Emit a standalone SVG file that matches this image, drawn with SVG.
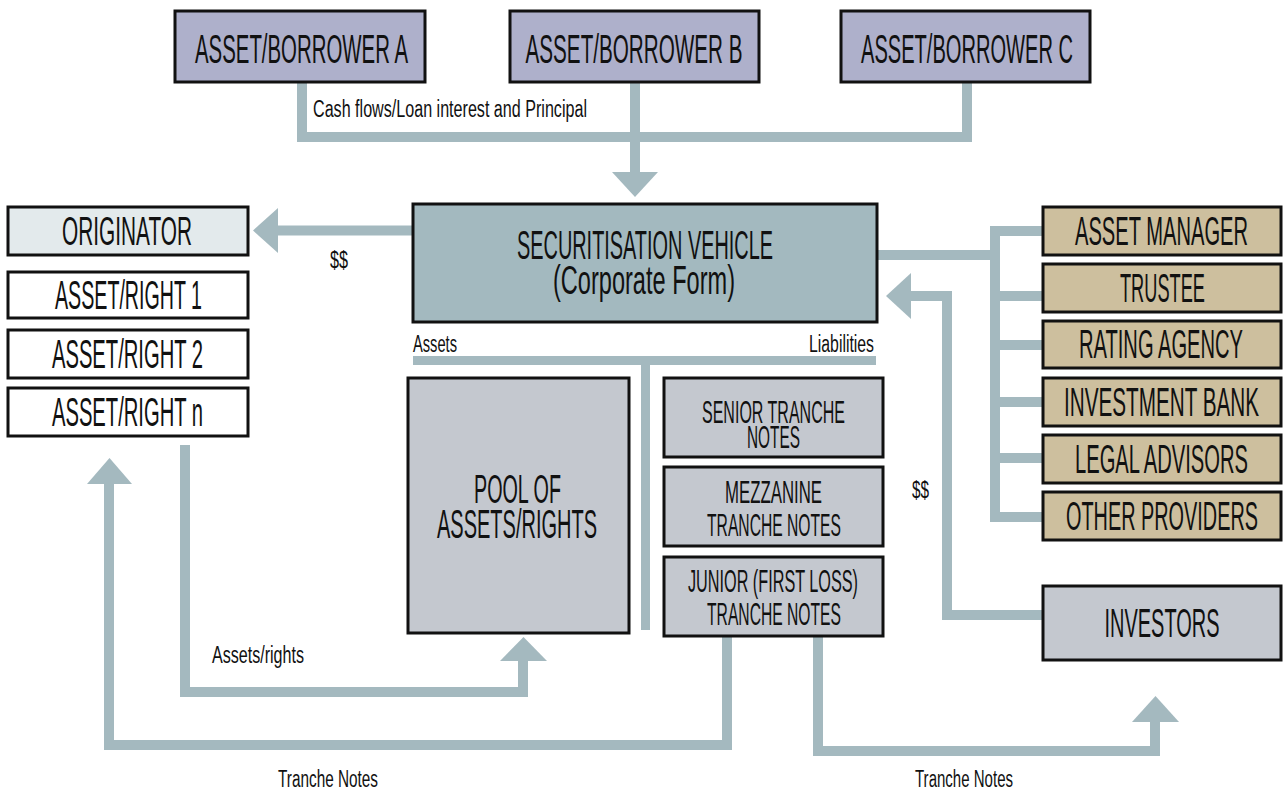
<svg xmlns="http://www.w3.org/2000/svg" width="1283" height="792" viewBox="0 0 1283 792">
<style>
text{font-family:"Liberation Sans Narrow","Liberation Sans",Arial,sans-serif;fill:#111;}
.box{stroke:#111;stroke-width:3;}
.borrower{fill:#aeb0cb;}
.orig{fill:#e3eaec;}
.right{fill:#ffffff;}
.sv{fill:#a3b9bf;}
.grey{fill:#c4c8cf;}
.tan{fill:#cdbf9e;}
.big{font-size:40px;text-anchor:middle;}
.mid{font-size:31px;text-anchor:middle;}
.small{font-size:23px;}
.conn path{fill:none;stroke:#a4b9bf;stroke-width:10;stroke-linejoin:miter;stroke-linecap:butt;}
.conn polygon{fill:#a4b9bf;}
</style>
<rect width="1283" height="792" fill="#ffffff"/>
<g id="connectors" class="conn">
<path d="M302,83 V137 H967 V83"/>
<path d="M635,83 V173"/>
<polygon points="612,172 658,172 635,197"/>
<path d="M413,230.5 H277"/>
<polygon points="278,208 278,253 253,230.5"/>
<path d="M413,360.5 H876" style="stroke-width:9"/>
<path d="M645.5,360 V630" style="stroke-width:9"/>
<path d="M877,255 H995"/>
<path d="M1043,231 H995 V517 H1043"/>
<path d="M995,296 H1043"/>
<path d="M995,345 H1043"/>
<path d="M995,402 H1043"/>
<path d="M995,458 H1043"/>
<path d="M1043,615 H947 V296 H910"/>
<polygon points="911,273 911,319 886,296"/>
<path d="M185,445 V692 H523 V660"/>
<polygon points="500,661 547,661 523.5,637"/>
<path d="M727,636 V745 H109 V483"/>
<polygon points="87,484 132,484 109.5,458"/>
<path d="M818,636 V751 H1155 V721"/>
<polygon points="1132,722 1179,722 1155.5,696"/>
</g>
<g id="labels">
<text class="small" x="313" y="117" textLength="274" lengthAdjust="spacingAndGlyphs">Cash flows/Loan interest and Principal</text>
<text class="small" x="330" y="268" textLength="18" lengthAdjust="spacingAndGlyphs">$$</text>
<text class="small" x="413" y="352" textLength="44" lengthAdjust="spacingAndGlyphs">Assets</text>
<text class="small" x="809" y="352" textLength="65" lengthAdjust="spacingAndGlyphs">Liabilities</text>
<text class="small" x="912" y="498" textLength="17" lengthAdjust="spacingAndGlyphs">$$</text>
<text class="small" x="212" y="663" textLength="92" lengthAdjust="spacingAndGlyphs">Assets/rights</text>
<text class="small" x="278" y="787" textLength="100" lengthAdjust="spacingAndGlyphs">Tranche Notes</text>
<text class="small" x="915" y="787" textLength="98" lengthAdjust="spacingAndGlyphs">Tranche Notes</text>
</g>
<g id="borrower-a"><rect class="box borrower" x="175" y="11" width="250" height="71"/><text class="big" x="301.5" y="63" textLength="213" lengthAdjust="spacingAndGlyphs">ASSET/BORROWER A</text></g>
<g id="borrower-b"><rect class="box borrower" x="510" y="11" width="249" height="71"/><text class="big" x="634" y="63" textLength="217" lengthAdjust="spacingAndGlyphs">ASSET/BORROWER B</text></g>
<g id="borrower-c"><rect class="box borrower" x="841" y="11" width="249" height="71"/><text class="big" x="967" y="63" textLength="212" lengthAdjust="spacingAndGlyphs">ASSET/BORROWER C</text></g>
<g id="originator"><rect class="box orig" x="8" y="207" width="240" height="48"/><text class="big" x="127" y="245" textLength="130" lengthAdjust="spacingAndGlyphs">ORIGINATOR</text></g>
<g id="asset-right-1"><rect class="box right" x="8" y="272" width="240" height="46"/><text class="big" x="128.5" y="309" textLength="147" lengthAdjust="spacingAndGlyphs">ASSET/RIGHT 1</text></g>
<g id="asset-right-2"><rect class="box right" x="8" y="330" width="240" height="48"/><text class="big" x="127.5" y="368" textLength="151" lengthAdjust="spacingAndGlyphs">ASSET/RIGHT 2</text></g>
<g id="asset-right-n"><rect class="box right" x="8" y="388" width="240" height="48"/><text class="big" x="127.5" y="426" textLength="151" lengthAdjust="spacingAndGlyphs">ASSET/RIGHT n</text></g>
<g id="vehicle"><rect class="box sv" x="413" y="204" width="464" height="118"/><text class="big" x="645" y="259" textLength="256" lengthAdjust="spacingAndGlyphs">SECURITISATION VEHICLE</text><text class="big" x="644" y="294" textLength="182" lengthAdjust="spacingAndGlyphs">(Corporate Form)</text></g>
<g id="pool"><rect class="box grey" x="408" y="378" width="221" height="255"/><text class="big" x="517.5" y="503" textLength="87" lengthAdjust="spacingAndGlyphs">POOL OF</text><text class="big" x="517" y="538" textLength="160" lengthAdjust="spacingAndGlyphs">ASSETS/RIGHTS</text></g>
<g id="senior"><rect class="box grey" x="664" y="378" width="219" height="79"/><text class="mid" x="773.5" y="423" textLength="143" lengthAdjust="spacingAndGlyphs">SENIOR TRANCHE</text><text class="mid" x="773.5" y="448" textLength="53" lengthAdjust="spacingAndGlyphs">NOTES</text></g>
<g id="mezzanine"><rect class="box grey" x="664" y="467" width="219" height="79"/><text class="mid" x="773.5" y="503" textLength="97" lengthAdjust="spacingAndGlyphs">MEZZANINE</text><text class="mid" x="774" y="536" textLength="134" lengthAdjust="spacingAndGlyphs">TRANCHE NOTES</text></g>
<g id="junior"><rect class="box grey" x="664" y="557" width="219" height="79"/><text class="mid" x="773" y="592" textLength="170" lengthAdjust="spacingAndGlyphs">JUNIOR (FIRST LOSS)</text><text class="mid" x="774" y="625" textLength="134" lengthAdjust="spacingAndGlyphs">TRANCHE NOTES</text></g>
<g id="asset-manager"><rect class="box tan" x="1043" y="207" width="238" height="48"/><text class="big" x="1161.5" y="245" textLength="173" lengthAdjust="spacingAndGlyphs">ASSET MANAGER</text></g>
<g id="trustee"><rect class="box tan" x="1043" y="264" width="238" height="48"/><text class="big" x="1162.5" y="302" textLength="85" lengthAdjust="spacingAndGlyphs">TRUSTEE</text></g>
<g id="rating-agency"><rect class="box tan" x="1043" y="321" width="238" height="47"/><text class="big" x="1161" y="358" textLength="164" lengthAdjust="spacingAndGlyphs">RATING AGENCY</text></g>
<g id="investment-bank"><rect class="box tan" x="1043" y="378" width="238" height="48"/><text class="big" x="1161.5" y="416" textLength="195" lengthAdjust="spacingAndGlyphs">INVESTMENT BANK</text></g>
<g id="legal-advisors"><rect class="box tan" x="1043" y="435" width="238" height="48"/><text class="big" x="1161.5" y="473" textLength="173" lengthAdjust="spacingAndGlyphs">LEGAL ADVISORS</text></g>
<g id="other-providers"><rect class="box tan" x="1043" y="492" width="238" height="48"/><text class="big" x="1162" y="530" textLength="192" lengthAdjust="spacingAndGlyphs">OTHER PROVIDERS</text></g>
<g id="investors"><rect class="box grey" x="1043" y="586" width="238" height="74"/><text class="big" x="1162" y="637" textLength="115" lengthAdjust="spacingAndGlyphs">INVESTORS</text></g>
</svg>
